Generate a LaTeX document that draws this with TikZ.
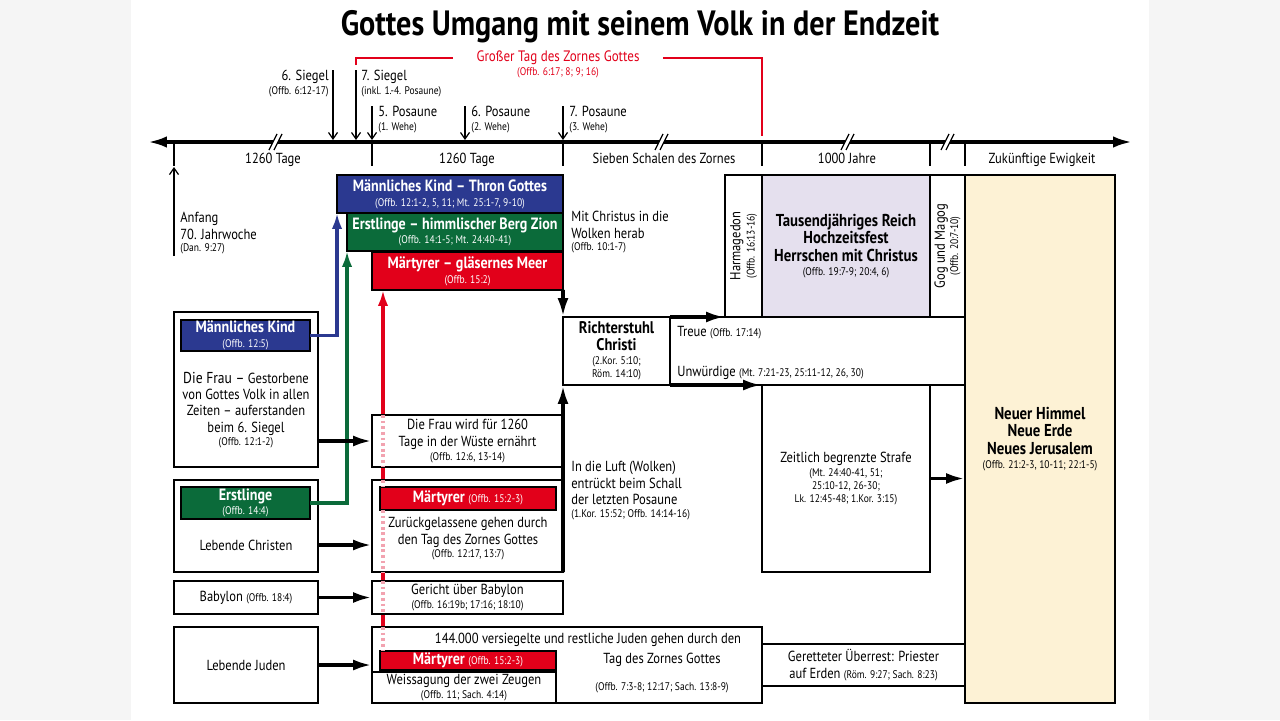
\documentclass[tikz,border=0pt]{standalone}
\usepackage{fontspec}
\setmainfont{PT Sans}[FakeStretch=0.86]
\usetikzlibrary{arrows.meta}
\definecolor{blauKind}{HTML}{2B3990}
\definecolor{gruenErst}{HTML}{0B6B3A}
\definecolor{rotMart}{HTML}{E2001A}
\definecolor{rosaPunkt}{HTML}{F2A3B0}
\definecolor{lilaReich}{HTML}{E5E0EE}
\definecolor{gelbNeu}{HTML}{FDF2D5}
\definecolor{grauRand}{HTML}{F5F5F5}
\newcommand{\stelle}[1]{{\normalfont\fontsize{6.3}{7}\selectfont #1}}
\pgfdeclarelayer{unten}
\pgfdeclarelayer{mitte}
\pgfsetlayers{unten,mitte,main}

\begin{document}
\begin{tikzpicture}[x=0.02cm, y=-0.02cm,
    kasten/.style={rectangle, draw=black, line width=1.2pt, fill=white, inner sep=0pt,
                   outer sep=0pt, align=center, font=\fontsize{8.3}{9.3}\selectfont},
    kopf/.style={kasten, text=white, font=\bfseries\fontsize{9.3}{8.4}\selectfont},
    fett/.style={kasten, font=\bfseries\fontsize{9.8}{10}\selectfont},
    lbl/.style={inner sep=0pt, align=left, font=\fontsize{8.3}{9.3}\selectfont},
    pfeil/.style={-{Latex[length=3.8mm,width=2.2mm]}, line width=2.1pt},
    farbpfeil/.style={-{Latex[length=3.2mm,width=2.1mm]}, line width=1.9pt},
    ereignis/.style={-{Straight Barb[length=1.3mm,width=1.8mm]}, line width=0.7pt},
    achse/.style={{Latex[length=3.8mm,width=2.3mm]}-{Latex[length=3.8mm,width=2.3mm]}, line width=2pt},
    punkte/.style={draw=rosaPunkt, line width=1.8pt, dash pattern=on 1.6pt off 1.6pt}
  ]
  \useasboundingbox (0,0) rectangle (1280,720);
  \begin{pgfonlayer}{unten}
    \fill[grauRand] (0,0) rectangle (1280,720);
    \fill[white] (131,0) rectangle (1149,720);
  \end{pgfonlayer}

  % Titel
  \node[font=\bfseries\fontsize{20}{24}\selectfont] (titel) at (640,27) {Gottes Umgang mit seinem Volk in der Endzeit};

  % Grosser Tag des Zornes
  \node[text=rotMart, font=\fontsize{8.6}{9}\selectfont, inner sep=0pt] (zorn) at (558,58) {Großer Tag des Zornes Gottes};
  \node[text=rotMart, inner sep=0pt] (zornref) at (558,73) {\stelle{(Offb. 6:17; 8; 9; 16)}};
  \coordinate (z7) at (356,65);
  \coordinate (zende) at (762,136);
  \draw[rotMart, line width=1.2pt] (z7) |- ([xshift=-0.46cm]zorn.west);
  \draw[rotMart, line width=1.2pt] ([xshift=0.46cm]zorn.east) -| (zende);

  % Zeitachse
  \coordinate (links) at (148,142);
  \coordinate (rechts) at (1132,142);
  \draw[achse] (links) -- (rechts);
  \foreach \x in {174,372,563,762,930,965}
    \draw[line width=1.4pt] (\x,142) -- (\x,166);
  \foreach \x in {276,662,848,948} {
    \fill[white] (\x-5.5,147) -- (\x-0.5,137) -- (\x+4.5,137) -- (\x-0.5,147) -- cycle;
    \draw[line width=0.7pt] (\x-7,150) -- (\x+1,134) (\x-2,150) -- (\x+6,134);
  }
  \node[lbl, anchor=base] (tage1) at (273,163) {1260 Tage};
  \node[lbl, anchor=base] (tage2) at (467,163) {1260 Tage};
  \node[lbl, anchor=base] (schalen) at (664,163) {Sieben Schalen des Zornes};
  \node[lbl, anchor=base] (jahre) at (847,163) {1000 Jahre};
  \node[lbl, anchor=base] (ewig) at (1042,163) {Zukünftige Ewigkeit};

  % Siegel und Posaunen
  \node[lbl, anchor=north east, align=right] (siegel6) at (329,70) {6. Siegel\\[-1.4pt]\stelle{(Offb. 6:12-17)}};
  \node[lbl, anchor=north west] (siegel7) at (361,70) {7. Siegel\\[-1.4pt]\stelle{(inkl. 1.-4. Posaune)}};
  \node[lbl, anchor=north west] (posaune5) at (378,106) {5. Posaune\\[-1.4pt]\stelle{(1. Wehe)}};
  \node[lbl, anchor=north west] (posaune6) at (471,106) {6. Posaune\\[-1.4pt]\stelle{(2. Wehe)}};
  \node[lbl, anchor=north west] (posaune7) at (569,106) {7. Posaune\\[-1.4pt]\stelle{(3. Wehe)}};
  \coordinate (s6) at (333,140);
  \coordinate (s7) at (356,140);
  \coordinate (p5) at (372,140);
  \coordinate (p6) at (465,140);
  \coordinate (p7) at (563,140);
  \draw[ereignis] (s6 |- siegel6.north) -- (s6);
  \draw[ereignis] (s7 |- siegel7.north) -- (s7);
  \draw[ereignis] (p5 |- posaune5.north) -- (p5);
  \draw[ereignis] (p6 |- posaune6.north) -- (p6);
  \draw[ereignis] (p7 |- posaune7.north) -- (p7);

  % Anfang
  \node[lbl, anchor=north west] (anfang) at (180,212) {Anfang\\70. Jahrwoche\\[-2pt]\stelle{(Dan. 9:27)}};
  \coordinate (anf) at (174,256);
  \coordinate (anfspitze) at (174,167);
  \draw[ereignis] (anf) -- (anfspitze);

  % Himmlische Gruppen
  \node[kopf, fill=blauKind, minimum width=4.52cm, minimum height=0.76cm] (mkhead) at (450,194)
    {Männliches Kind – Thron Gottes\\\stelle{(Offb. 12:1-2, 5, 11; Mt. 25:1-7, 9-10)}};
  \node[kopf, fill=gruenErst, minimum width=4.32cm, minimum height=0.76cm] (erhead) at (455,232)
    {Erstlinge – himmlischer Berg Zion\\\stelle{(Offb. 14:1-5; Mt. 24:40-41)}};
  \node[kopf, fill=rotMart, minimum width=3.82cm, minimum height=0.76cm] (mahead) at (467.5,271)
    {Märtyrer – gläsernes Meer\\\stelle{(Offb. 15:2)}};
  \node[lbl, anchor=north west] (herab) at (571,211) {Mit Christus in die\\Wolken herab\\[-2pt]\stelle{(Offb. 10:1-7)}};

  % Linke Spalte
  \node[kasten, minimum width=2.88cm, minimum height=3.10cm] (frau) at (246,389.5) {};
  \node[kopf, fill=blauKind, minimum width=2.58cm, minimum height=0.62cm] (mkind) at (245.5,335.5)
    {Männliches Kind\\\stelle{(Offb. 12:5)}};
  \node[lbl, align=center] (frautext) at (246,410)
    {{\fontsize{9}{9.3}\selectfont Die Frau –} Gestorbene\\von Gottes Volk in allen\\Zeiten – auferstanden\\beim 6. Siegel\\[-1.5pt]\stelle{(Offb. 12:1-2)}};
  \node[kasten, minimum width=2.88cm, minimum height=1.84cm] (christen) at (246,526) {};
  \node[kopf, fill=gruenErst, minimum width=2.58cm, minimum height=0.64cm] (erst) at (245.5,503)
    {Erstlinge\\\stelle{(Offb. 14:4)}};
  \node[lbl] (lc) at (246,545) {Lebende Christen};
  \node[kasten, minimum width=2.88cm, minimum height=0.66cm] (babylon) at (246,597.5)
    {Babylon \stelle{(Offb. 18:4)}};
  \node[kasten, minimum width=2.88cm, minimum height=1.52cm] (juden) at (246,665) {Lebende Juden};

  % Mittlere Spalte
  \node[kasten, minimum width=3.82cm, minimum height=1.04cm] (wueste) at (467.5,441)
    {Die Frau wird für 1260\\Tage in der Wüste ernährt\\[-1.5pt]\stelle{(Offb. 12:6, 13-14)}};
  \node[kasten, minimum width=3.82cm, minimum height=1.84cm] (zurueck) at (467.5,526) {};
  \node[kopf, fill=rotMart, minimum width=3.52cm, minimum height=0.46cm] (mart2) at (468,498.5)
    {Märtyrer \stelle{(Offb. 15:2-3)}};
  \node[lbl, align=center] (zurtext) at (468,539)
    {Zurückgelassene gehen durch\\den Tag des Zornes Gottes\\[-1.5pt]\stelle{(Offb. 12:17, 13:7)}};
  \node[kasten, minimum width=3.82cm, minimum height=0.66cm] (gericht) at (467.5,597.5)
    {Gericht über Babylon\\[-1.3pt]\stelle{(Offb. 16:19b; 17:16; 18:10)}};
  \node[kasten, minimum width=7.8cm, minimum height=1.52cm] (juden144) at (567,665) {};
  \node[kopf, fill=rotMart, minimum width=3.52cm, minimum height=0.38cm] (mart3) at (468,660.5)
    {Märtyrer \stelle{(Offb. 15:2-3)}};
  \node[kasten, minimum width=3.68cm, minimum height=0.62cm] (zeugen) at (464,687.5)
    {Weissagung der zwei Zeugen\\[-1.3pt]\stelle{(Offb. 11; Sach. 4:14)}};
  \node[lbl] (t144) at (588,640) {144.000 versiegelte und restliche Juden gehen durch den};
  \node[lbl] (tagzorn) at (662,660) {Tag des Zornes Gottes};
  \node[lbl] (ref144) at (662,688) {\stelle{(Offb. 7:3-8; 12:17; Sach. 13:8-9)}};
  \node[lbl, anchor=north west] (luft) at (571,461)
    {In die Luft (Wolken)\\entrückt beim Schall\\der letzten Posaune\\[-2pt]\stelle{(1.Kor. 15:52; Offb. 14:14-16)}};

  % Gericht und Reich
  \node[kasten, minimum width=5.9cm, minimum height=1.36cm] (treue) at (817.5,351) {};
  \node[kasten, minimum width=2.14cm, minimum height=1.36cm] (richter) at (616.5,351)
    {\textbf{\fontsize{9.6}{9.3}\selectfont Richterstuhl}\\\textbf{\fontsize{9.6}{9.3}\selectfont Christi}\\[-1pt]\stelle{(2.Kor. 5:10;}\\[-2pt]\stelle{Röm. 14:10)}};
  \node[lbl, anchor=base west] (treuetext) at (677,336) {Treue \stelle{(Offb. 17:14)}};
  \node[lbl, anchor=base west] (unwtext) at (677,376) {Unwürdige \stelle{(Mt. 7:21-23, 25:11-12, 26, 30)}};
  \node[kasten, minimum width=0.74cm, minimum height=2.84cm] (harma) at (743.5,246) {};
  \node[lbl, rotate=90, align=center] (harmatext) at (harma) {Harmagedon\\[-1.2pt]\stelle{(Offb. 16:13-16)}};
  \node[fett, fill=lilaReich, minimum width=3.36cm, minimum height=2.84cm] (reich) at (846,246)
    {Tausendjähriges Reich\\Hochzeitsfest\\Herrschen mit Christus\\[-2pt]\stelle{(Offb. 19:7-9; 20:4, 6)}};
  \node[kasten, minimum width=0.70cm, minimum height=2.84cm] (gog) at (947.5,246) {};
  \node[lbl, rotate=90, align=center] (gogtext) at (gog) {Gog und Magog\\[-1.8pt]\stelle{(Offb. 20:7-10)}};
  \node[fett, fill=gelbNeu, minimum width=3.0cm, minimum height=10.56cm] (neu) at (1040,439)
    {Neuer Himmel\\Neue Erde\\Neues Jerusalem\\[-2pt]\stelle{(Offb. 21:2-3, 10-11; 22:1-5)}};
  \node[kasten, minimum width=3.36cm, minimum height=3.74cm] (zeitlich) at (846,478.5)
    {Zeitlich begrenzte Strafe\\[-1.5pt]\stelle{(Mt. 24:40-41, 51;}\\[-2pt]\stelle{25:10-12, 26-30;}\\[-2pt]\stelle{Lk. 12:45-48; 1.Kor. 3:15)}};
  \node[kasten, minimum width=4.06cm, minimum height=0.84cm] (rest) at (863.5,665)
    {Geretteter Überrest: Priester\\auf Erden \stelle{(Röm. 9:27; Sach. 8:23)}};

  % roter Pfeil hinter den Kaesten
  \coordinate (rx) at (383,0);
  \begin{pgfonlayer}{mitte}
    \draw[farbpfeil, rotMart] (mart3.north -| rx) -- (mahead.south -| rx);
  \end{pgfonlayer}
  \draw[punkte] (wueste.north -| rx) -- (wueste.south -| rx);
  \draw[punkte] (zurueck.north -| rx) -- (mart2.north -| rx);
  \draw[punkte] (mart2.south -| rx) -- (zurueck.south -| rx);
  \draw[punkte] (gericht.north -| rx) -- (gericht.south -| rx);
  \draw[punkte] (juden144.north -| rx) -- (mart3.north -| rx);

  % Verbindungen
  \draw[farbpfeil, blauKind] (mkind.east) -| (mkhead.south west);
  \draw[farbpfeil, gruenErst] (erst.east) -| (erhead.south west);
  \draw[pfeil] (frau.east |- wueste.west) -- (wueste.west);
  \draw[pfeil] (christen.east |- lc) -- (zurueck.west |- lc);
  \draw[pfeil] (babylon.east) -- (gericht.west);
  \draw[pfeil] (juden.east) -- (juden144.west);
  \draw[pfeil] (zurueck.south east) -- (richter.south west);
  \draw[pfeil] (mahead.south east) -- (richter.north west);
  \draw[pfeil] (richter.north east) -- (harma.south west);
  \draw[pfeil] (richter.south east) -- (zeitlich.north west);
  \draw[pfeil] (zeitlich.east) -- (zeitlich.east -| neu.west);
\end{tikzpicture}
\end{document}
